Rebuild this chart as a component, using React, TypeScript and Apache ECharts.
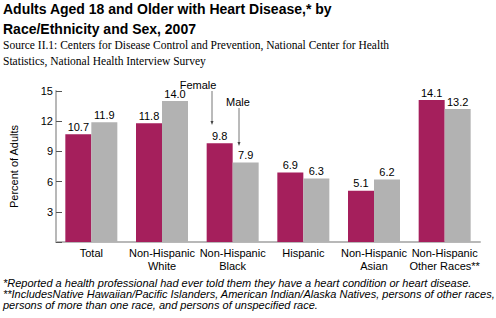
import React, { useEffect, useRef } from "react";
import * as echarts from "echarts";

const categories = [
  "Total",
  "Non-Hispanic\nWhite",
  "Non-Hispanic\nBlack",
  "Hispanic",
  "Non-Hispanic\nAsian",
  "Non-Hispanic\nOther Races**",
];
const femaleValues = [10.7, 11.8, 9.8, 6.9, 5.1, 14.1];
const maleValues = [11.9, 14.0, 7.9, 6.3, 6.2, 13.2];
const titleLines = [
  "Adults Aged 18 and Older with Heart Disease,* by",
  "Race/Ethnicity and Sex, 2007",
];
const sourceLines = [
  "Source II.1: Centers for Disease Control and Prevention, National Center for Health",
  "Statistics, National Health Interview Survey",
];
const footnoteLines = [
  "*Reported a health professional had ever told them they have a heart condition or heart disease.",
  "**IncludesNative Hawaiian/Pacific Islanders, American Indian/Alaska Natives, persons of other races,",
  "persons of more than one race, and persons of unspecified race.",
];

const SANS = "'Liberation Sans', Arial, sans-serif";
const SERIF = "'Liberation Serif', 'Times New Roman', serif";
const FEMALE = "#A51F5C";
const MALE = "#B2B2B2";

export default function App() {
  const ref = useRef<HTMLDivElement>(null);
  useEffect(() => {
    if (!ref.current) return;
    const chart = echarts.init(ref.current, null, { renderer: "svg" });
    const labelStyle = {
      show: true,
      position: "top" as const,
      distance: 2,
      color: "#000",
      fontSize: 11,
      fontFamily: SANS,
      formatter: (p: any) => Number(p.value).toFixed(1),
    };
    const graphics: any[] = [];
    titleLines.forEach((t, i) => {
      graphics.push({
        type: "text",
        left: 3,
        top: 2 + i * 20,
        style: { text: t, font: `bold 14px ${SANS}`, fill: "#000" },
      });
    });
    sourceLines.forEach((t, i) => {
      graphics.push({
        type: "text",
        left: 3,
        top: 39 + i * 16,
        style: { text: t, font: `11.5px ${SERIF}`, fill: "#000" },
      });
    });
    footnoteLines.forEach((t, i) => {
      graphics.push({
        type: "text",
        left: 3,
        top: 277 + i * 11,
        style: { text: t, font: `italic 11px ${SANS}`, fill: "#000" },
      });
    });
    // annotations
    graphics.push(
      { type: "text", x: 198, y: 85, style: { text: "Female", font: `11px ${SANS}`, fill: "#000", align: "center", verticalAlign: "middle" } },
      { type: "line", shape: { x1: 212, y1: 91, x2: 212, y2: 122 }, style: { stroke: "#777", lineWidth: 1 } },
      { type: "polygon", shape: { points: [[210.5, 121], [213.5, 121], [212, 125]] }, style: { fill: "#444" } },
      { type: "text", x: 238, y: 102, style: { text: "Male", font: `11px ${SANS}`, fill: "#000", align: "center", verticalAlign: "middle" } },
      { type: "line", shape: { x1: 239, y1: 108, x2: 239, y2: 143 }, style: { stroke: "#777", lineWidth: 1 } },
      { type: "polygon", shape: { points: [[237.5, 142], [240.5, 142], [239, 146]] }, style: { fill: "#444" } }
    );
    chart.setOption({
      animation: false,
      backgroundColor: "#fff",
      grid: { left: 43, right: 16, top: 91, bottom: 76, containLabel: false },
      xAxis: {
        type: "category",
        data: categories,
        axisLine: { lineStyle: { color: "#B8B8B8", width: 2 } },
        axisTick: { show: false },
        axisLabel: {
          color: "#000",
          fontSize: 11,
          fontFamily: SANS,
          lineHeight: 13,
          margin: 4,
          interval: 0,
        },
      },
      yAxis: {
        type: "value",
        min: 0,
        max: 15,
        interval: 3,
        name: "Percent of Adults",
        nameLocation: "middle",
        nameGap: 37,
        nameTextStyle: { color: "#000", fontSize: 11, fontFamily: SANS },
        axisLine: { show: true, lineStyle: { color: "#B8B8B8", width: 2 } },
        axisTick: { show: true, inside: true, length: 6, lineStyle: { color: "#555", width: 1 } },
        axisLabel: {
          color: "#000",
          fontSize: 11,
          fontFamily: SANS,
          margin: 3,
          formatter: (v: number) => (v === 0 ? "" : String(v)),
        },
        splitLine: { show: false },
      },
      series: [
        {
          name: "Female",
          type: "bar",
          data: femaleValues,
          barWidth: 26,
          barGap: "0%",
          itemStyle: { color: FEMALE },
          label: labelStyle,
        },
        {
          name: "Male",
          type: "bar",
          data: maleValues,
          barWidth: 26,
          barGap: "0%",
          itemStyle: { color: MALE },
          label: labelStyle,
        },
      ],
      graphic: graphics,
    });
    return () => chart.dispose();
  }, []);
  return <div ref={ref} style={{ width: 496, height: 318, position: "absolute", left: 0, top: 0 }} />;
}
